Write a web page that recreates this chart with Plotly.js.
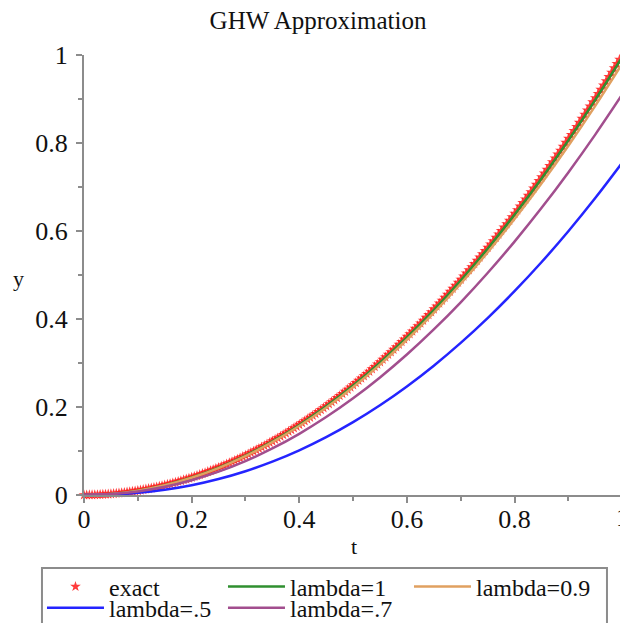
<!DOCTYPE html>
<html>
<head>
<meta charset="utf-8">
<script src="https://cdn.plot.ly/plotly-3.0.1.min.js"></script>
<style>
  html, body { margin: 0; padding: 0; background: #ffffff; }
  #chart { width: 620px; height: 623px; }
</style>
</head>
<body>
<div id="chart"></div>
<script>
// Exact solution sampled as points
const tExact = [
  0, 0.005, 0.01, 0.015, 0.02, 0.025, 0.03, 0.035, 0.04, 0.045,
  0.05, 0.055, 0.06, 0.065, 0.07, 0.075, 0.08, 0.085, 0.09, 0.095,
  0.1, 0.105, 0.11, 0.115, 0.12, 0.125, 0.13, 0.135, 0.14, 0.145,
  0.15, 0.155, 0.16, 0.165, 0.17, 0.175, 0.18, 0.185, 0.19, 0.195,
  0.2, 0.205, 0.21, 0.215, 0.22, 0.225, 0.23, 0.235, 0.24, 0.245,
  0.25, 0.255, 0.26, 0.265, 0.27, 0.275, 0.28, 0.285, 0.29, 0.295,
  0.3, 0.305, 0.31, 0.315, 0.32, 0.325, 0.33, 0.335, 0.34, 0.345,
  0.35, 0.355, 0.36, 0.365, 0.37, 0.375, 0.38, 0.385, 0.39, 0.395,
  0.4, 0.405, 0.41, 0.415, 0.42, 0.425, 0.43, 0.435, 0.44, 0.445,
  0.45, 0.455, 0.46, 0.465, 0.47, 0.475, 0.48, 0.485, 0.49, 0.495,
  0.5, 0.505, 0.51, 0.515, 0.52, 0.525, 0.53, 0.535, 0.54, 0.545,
  0.55, 0.555, 0.56, 0.565, 0.57, 0.575, 0.58, 0.585, 0.59, 0.595,
  0.6, 0.605, 0.61, 0.615, 0.62, 0.625, 0.63, 0.635, 0.64, 0.645,
  0.65, 0.655, 0.66, 0.665, 0.67, 0.675, 0.68, 0.685, 0.69, 0.695,
  0.7, 0.705, 0.71, 0.715, 0.72, 0.725, 0.73, 0.735, 0.74, 0.745,
  0.75, 0.755, 0.76, 0.765, 0.77, 0.775, 0.78, 0.785, 0.79, 0.795,
  0.8, 0.805, 0.81, 0.815, 0.82, 0.825, 0.83, 0.835, 0.84, 0.845,
  0.85, 0.855, 0.86, 0.865, 0.87, 0.875, 0.88, 0.885, 0.89, 0.895,
  0.9, 0.905, 0.91, 0.915, 0.92, 0.925, 0.93, 0.935, 0.94, 0.945,
  0.95, 0.955, 0.96, 0.965, 0.97, 0.975, 0.98, 0.985, 0.99, 0.995,
  1
];
const yExact = [
  0, 0.000025, 0.0001, 0.000225, 0.0004, 0.000625, 0.0009, 0.001225, 0.0016, 0.002025,
  0.0025, 0.003025, 0.0036, 0.004225, 0.0049, 0.005625, 0.0064, 0.007225, 0.0081, 0.009025,
  0.01, 0.011025, 0.0121, 0.013225, 0.0144, 0.015625, 0.0169, 0.018225, 0.0196, 0.021025,
  0.0225, 0.024025, 0.0256, 0.027225, 0.0289, 0.030625, 0.0324, 0.034225, 0.0361, 0.038025,
  0.04, 0.042025, 0.0441, 0.046225, 0.0484, 0.050625, 0.0529, 0.055225, 0.0576, 0.060025,
  0.0625, 0.065025, 0.0676, 0.070225, 0.0729, 0.075625, 0.0784, 0.081225, 0.0841, 0.087025,
  0.09, 0.093025, 0.0961, 0.099225, 0.1024, 0.105625, 0.1089, 0.112225, 0.1156, 0.119025,
  0.1225, 0.126025, 0.1296, 0.133225, 0.1369, 0.140625, 0.1444, 0.148225, 0.1521, 0.156025,
  0.16, 0.164025, 0.1681, 0.172225, 0.1764, 0.180625, 0.1849, 0.189225, 0.1936, 0.198025,
  0.2025, 0.207025, 0.2116, 0.216225, 0.2209, 0.225625, 0.2304, 0.235225, 0.2401, 0.245025,
  0.25, 0.255025, 0.2601, 0.265225, 0.2704, 0.275625, 0.2809, 0.286225, 0.2916, 0.297025,
  0.3025, 0.308025, 0.3136, 0.319225, 0.3249, 0.330625, 0.3364, 0.342225, 0.3481, 0.354025,
  0.36, 0.366025, 0.3721, 0.378225, 0.3844, 0.390625, 0.3969, 0.403225, 0.4096, 0.416025,
  0.4225, 0.429025, 0.4356, 0.442225, 0.4489, 0.455625, 0.4624, 0.469225, 0.4761, 0.483025,
  0.49, 0.497025, 0.5041, 0.511225, 0.5184, 0.525625, 0.5329, 0.540225, 0.5476, 0.555025,
  0.5625, 0.570025, 0.5776, 0.585225, 0.5929, 0.600625, 0.6084, 0.616225, 0.6241, 0.632025,
  0.64, 0.648025, 0.6561, 0.664225, 0.6724, 0.680625, 0.6889, 0.697225, 0.7056, 0.714025,
  0.7225, 0.731025, 0.7396, 0.748225, 0.7569, 0.765625, 0.7744, 0.783225, 0.7921, 0.801025,
  0.81, 0.819025, 0.8281, 0.837225, 0.8464, 0.855625, 0.8649, 0.874225, 0.8836, 0.893025,
  0.9025, 0.912025, 0.9216, 0.931225, 0.9409, 0.950625, 0.9604, 0.970225, 0.9801, 0.990025,
  1
];

// GHW approximations for several lambda values
const tApprox = [0, 0.05, 0.1, 0.15, 0.2, 0.25, 0.3, 0.35, 0.4, 0.45, 0.5,
                 0.55, 0.6, 0.65, 0.7, 0.75, 0.8, 0.85, 0.9, 0.95, 1];
const yLambda1 = [0, 0.0025, 0.0099, 0.0224, 0.0398, 0.0622, 0.0896, 0.1219, 0.1592, 0.2015, 0.2488,
                  0.3010, 0.3582, 0.4204, 0.4876, 0.5597, 0.6368, 0.7189, 0.8060, 0.8980, 0.995];
const yLambda09 = [0, 0.0024, 0.0098, 0.0220, 0.0392, 0.0612, 0.0882, 0.1200, 0.1568, 0.1984, 0.2450,
                   0.2964, 0.3528, 0.4140, 0.4802, 0.5512, 0.6272, 0.7080, 0.7938, 0.8844, 0.98];
const yLambda05 = [0, 0.0011, 0.0049, 0.0119, 0.0222, 0.0363, 0.0541, 0.0758, 0.1015, 0.1314, 0.1655,
                   0.2039, 0.2467, 0.2939, 0.3457, 0.4021, 0.4632, 0.5289, 0.5994, 0.6748, 0.755];
const yLambda07 = [0, 0.0020, 0.0081, 0.0186, 0.0336, 0.0531, 0.0771, 0.1058, 0.1391, 0.1771, 0.2197,
                   0.2672, 0.3193, 0.3763, 0.4380, 0.5046, 0.5759, 0.6521, 0.7332, 0.8191, 0.91];

const seriesNames = ['exact', 'lambda=1', 'lambda=0.9', 'lambda=.5', 'lambda=.7'];

const serif = '"Liberation Serif", serif';
const axisGray = '#8c8c8c';
const ink = '#111111';

// legend rows are separate legends sharing one framed box drawn as a shape
function curve(name, y, color, legendId) {
  return {
    x: tApprox, y: y, name: name, type: 'scatter', mode: 'lines',
    legend: legendId,
    line: {color: color, width: 2.5, shape: 'spline', smoothing: 1}
  };
}

const traces = [
  {
    x: tExact, y: yExact, name: seriesNames[0], type: 'scatter', mode: 'markers',
    legend: 'legend', cliponaxis: false,
    marker: {symbol: 'star', size: 8, color: '#ff1a1a', opacity: 0.85, line: {width: 0}}
  },
  curve(seriesNames[1], yLambda1, '#2f8f2f', 'legend'),
  curve(seriesNames[2], yLambda09, '#e0a060', 'legend3'),
  curve(seriesNames[3], yLambda05, '#2424ff', 'legend2'),
  curve(seriesNames[4], yLambda07, '#a24e8e', 'legend2')
];

const legendCommon = {
  orientation: 'h',
  x: -0.0784, xanchor: 'left', yanchor: 'middle', valign: 'middle',
  bgcolor: 'rgba(0,0,0,0)', borderwidth: 0,
  font: {family: serif, size: 24, color: ink},
  entrywidth: 109, entrywidthmode: 'pixels',
  itemwidth: 57,
  traceorder: 'normal'
};

const layout = {
  width: 620, height: 623,
  margin: {l: 84, r: 0, t: 55, b: 128, autoexpand: false},
  paper_bgcolor: '#ffffff', plot_bgcolor: '#ffffff',
  font: {family: serif, color: ink},
  showlegend: true,
  title: {
    text: 'GHW Approximation',
    font: {family: serif, size: 25, color: ink},
    xref: 'container', x: 0.513, xanchor: 'center',
    yref: 'container', y: 0.967, yanchor: 'middle'
  },
  xaxis: {
    range: [0, 0.996], dtick: 0.2, tick0: 0,
    showgrid: false, zeroline: false,
    showline: true, linecolor: axisGray, linewidth: 2,
    ticks: 'outside', ticklen: 6, tickwidth: 2, tickcolor: axisGray,
    ticklabelstandoff: -6,
    minor: {dtick: 0.1, ticks: 'outside', ticklen: 4, tickwidth: 2, tickcolor: axisGray},
    tickfont: {family: serif, size: 26, color: ink},
    fixedrange: true
  },
  yaxis: {
    range: [0, 1], dtick: 0.2, tick0: 0,
    showgrid: false, zeroline: false,
    showline: true, linecolor: axisGray, linewidth: 2,
    ticks: 'outside', ticklen: 6, tickwidth: 2, tickcolor: axisGray,
    ticklabelstandoff: 3,
    minor: {dtick: 0.1, ticks: 'outside', ticklen: 4, tickwidth: 2, tickcolor: axisGray},
    tickfont: {family: serif, size: 26, color: ink},
    fixedrange: true
  },
  legend: Object.assign({}, legendCommon, {y: -0.209}),
  legend3: Object.assign({}, legendCommon, {y: -0.209, x: 0.6063, entrywidth: 130}),
  legend2: Object.assign({}, legendCommon, {y: -0.257}),
  shapes: [
    {type: 'rect', xref: 'paper', yref: 'paper', layer: 'below',
     x0: -0.0784, x1: 0.9757, y0: -0.1659, y1: -0.32,
     line: {color: axisGray, width: 2}, fillcolor: '#ffffff'}
  ],
  annotations: [
    {text: 't', xref: 'paper', yref: 'paper', x: 0.504, y: -0.118,
     showarrow: false, xanchor: 'center', yanchor: 'middle',
     font: {family: serif, size: 22, color: ink}},
    {text: 'y', xref: 'paper', yref: 'paper', x: -0.123, y: 0.493,
     showarrow: false, xanchor: 'center', yanchor: 'middle',
     font: {family: serif, size: 22, color: ink}},
    {text: '1', xref: 'paper', yref: 'paper', x: 1.004, y: -0.05,
     showarrow: false, xanchor: 'center', yanchor: 'middle',
     font: {family: serif, size: 26, color: ink}}
  ]
};

Plotly.newPlot('chart', traces, layout, {displayModeBar: false, staticPlot: true});
</script>
</body>
</html>
